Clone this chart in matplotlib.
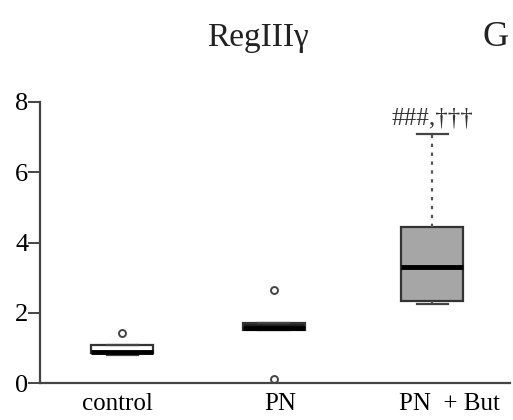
import matplotlib.pyplot as plt

plt.rcParams['font.family'] = ['Liberation Serif', 'DejaVu Serif']

# data
groups = ['control', 'PN', 'PN  + But']
q1 = [0.85, 1.50, 2.33]
med = [0.88, 1.58, 3.30]
q3 = [1.07, 1.70, 4.45]
whislo = [0.80, 1.50, 2.25]
whishi = [1.07, 1.70, 7.10]
fliers = [[1.42], [2.65, 0.10], []]
fills = ['white', '#202020', '#a6a6a6']

positions = [1, 1.98, 3]
label_pos = [0.97, 2.02, 3.11]

stats = []
for i in range(len(groups)):
    stats.append({'q1': q1[i], 'med': med[i], 'q3': q3[i],
                  'whislo': whislo[i], 'whishi': whishi[i],
                  'fliers': fliers[i]})

fig = plt.figure(figsize=(5.13, 4.2), dpi=100)
ax = fig.add_axes([40 / 513, 37 / 420, 470 / 513, 281 / 420])

bp = ax.bxp(stats, positions=positions, widths=0.4, patch_artist=True,
            capwidths=0.2,
            boxprops=dict(edgecolor='#333333', linewidth=1.6),
            medianprops=dict(color='black', linewidth=3.5),
            whiskerprops=dict(color='#555555', linewidth=1.6, linestyle=(0, (1.5, 2.5))),
            capprops=dict(color='#444444', linewidth=1.6),
            flierprops=dict(marker='o', markersize=5, markerfacecolor='none',
                            markeredgecolor='#444444', markeredgewidth=1.4))
for patch, c in zip(bp['boxes'], fills):
    patch.set_facecolor(c)

ax.text(3.0, 7.22, '###,†††', ha='center', va='bottom', fontsize=18, color='#333333')

ax.set_xlim(0.471, 3.503)
ax.set_ylim(0, 8)
ax.set_yticks([0, 2, 4, 6, 8])
ax.set_xticks(label_pos)
ax.set_xticklabels(groups)
ax.tick_params(axis='x', length=0, labelsize=18, pad=7)
ax.tick_params(axis='y', length=8.5, width=1.4, labelsize=19, pad=0, color='#444444')
for s in ['top', 'right']:
    ax.spines[s].set_visible(False)
for s in ['left', 'bottom']:
    ax.spines[s].set_color('#444444')
    ax.spines[s].set_linewidth(1.6)

fig.text(258 / 513, 1 - 38 / 420, 'RegIIIγ', ha='center', va='center', fontsize=24, color='#222222')
fig.text(483 / 513, 1 - 38 / 420, 'G', ha='left', va='center', fontsize=26, color='#222222')

fig.savefig('out.png', dpi=100)
